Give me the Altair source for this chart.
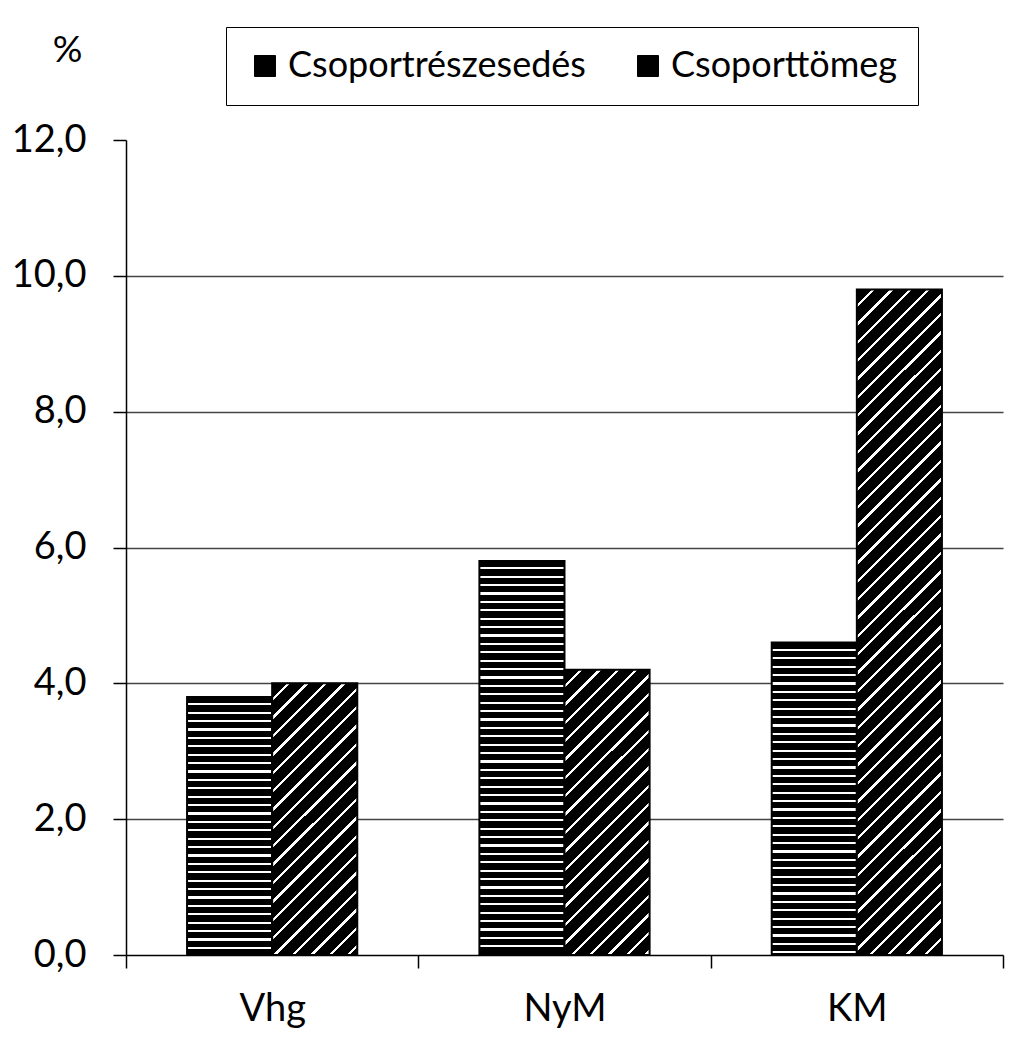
import math
import altair as alt
import pandas as pd

categories = ["Vhg", "NyM", "KM"]
series = ["Csoportrészesedés", "Csoporttömeg"]
share_values = [3.8, 5.8, 4.6]
mass_values = [4.0, 4.2, 9.8]

rows = []
for c, a, b in zip(categories, share_values, mass_values):
    rows.append({"cat": c, "series": series[0], "value": a})
    rows.append({"cat": c, "series": series[1], "value": b})
df = pd.DataFrame(rows)

PLOT_W, PLOT_H = 877, 815
Y_MAX = 12.0
BAR_W = 85.0
FONT = "Lato"


def brick_fill(h, period=8.4, white=2.2):
    n = int(math.ceil(h / period))
    stops = []
    for k in range(n):
        s = (k * period) / h
        m = min(1.0, (k * period + period - white) / h)
        e = min(1.0, ((k + 1) * period) / h)
        if s >= 1.0:
            break
        stops.append({"offset": round(s, 5), "color": "black"})
        stops.append({"offset": round(m, 5), "color": "black"})
        if m < 1.0:
            stops.append({"offset": round(m, 5), "color": "white"})
            stops.append({"offset": round(e, 5), "color": "white"})
    return {"gradient": "linear", "x1": 0, "y1": 0, "x2": 0, "y2": 1, "stops": stops}


def hatch_fill(h, w=BAR_W, period=13.0, white=2.4):
    r = w / h
    s = (r + 1) / (r * r + 1)
    length = s * (w * w / h + h) / math.sqrt(2)
    n = int(math.ceil(length / period))
    stops = []
    for k in range(n):
        a = k * period / length
        m = min(1.0, (k * period + period - white) / length)
        e = min(1.0, (k + 1) * period / length)
        if a >= 1.0:
            break
        stops.append({"offset": round(a, 5), "color": "black"})
        stops.append({"offset": round(m, 5), "color": "black"})
        if m < 1.0:
            stops.append({"offset": round(m, 5), "color": "white"})
            stops.append({"offset": round(e, 5), "color": "white"})
    return {"gradient": "linear", "x1": 0, "y1": 0, "x2": round(s * r, 5), "y2": round(s, 5), "stops": stops}


x_enc = alt.X(
    "cat:N", sort=categories, title=None,
    scale=alt.Scale(paddingInner=0, paddingOuter=0),
    axis=alt.Axis(labelAngle=0, labelFont=FONT, labelFontSize=38, labelColor="black",
                  tickBand="extent", tickSize=13, tickColor="black", tickWidth=1.5,
                  domainColor="black", domainWidth=1.5, labelPadding=22, grid=False),
)
xo_enc = alt.XOffset("series:N", sort=series,
                     scale=alt.Scale(paddingInner=0, paddingOuter=0.7176))
y_enc = alt.Y(
    "value:Q", title="%",
    scale=alt.Scale(domain=[0, Y_MAX], nice=False),
    axis=alt.Axis(values=[0, 2, 4, 6, 8, 10, 12],
                  labelExpr="replace(format(datum.value, '.1f'), '.', ',')",
                  labelFont=FONT, labelFontSize=38, labelColor="black", labelPadding=27,
                  tickSize=13, tickColor="black", tickWidth=1.5,
                  domainColor="black", domainWidth=1.5,
                  grid=True, gridColor="#444444", gridWidth=1.5,
                  gridOpacity={"condition": {"test": "datum.value === 12 || datum.value === 0", "value": 0}, "value": 1},
                  titleAngle=0, titleFont=FONT, titleFontSize=37, titleFontWeight="normal",
                  titleColor="black", titleX=-59, titleY=-90, titleAlign="center",
                  titleBaseline="middle"),
)

base = alt.Chart(df).encode(x=x_enc, xOffset=xo_enc, y=y_enc)

legend_layer = base.mark_bar(opacity=0).encode(
    color=alt.Color(
        "series:N", sort=series,
        scale=alt.Scale(domain=series, range=["black", "black"]),
        legend=alt.Legend(
            title=None, orient="none", direction="horizontal", columns=2,
            legendX=100, legendY=-113,
            strokeColor="black", fillColor="white", padding=21,
            symbolType="square", symbolSize=440, symbolOpacity=1,
            symbolFillColor="black", symbolStrokeColor="black", symbolStrokeWidth=1,
            labelFont=FONT, labelFontSize=36, labelColor="black", labelOffset=5,
            columnPadding=44, labelLimit=400,
        ),
    )
)

layers = [legend_layer]
px_per_unit = PLOT_H / Y_MAX
for r in rows:
    h = r["value"] * px_per_unit
    fill = brick_fill(h) if r["series"] == series[0] else hatch_fill(h)
    cond = f"datum.cat === '{r['cat']}' && datum.series === '{r['series']}'"
    layers.append(
        base.transform_filter(cond).mark_bar(fill=fill, stroke="black", strokeWidth=2)
    )

chart = alt.layer(*layers).properties(
    width=PLOT_W, height=PLOT_H,
    autosize=alt.AutoSizeParams(type="none"),
    padding={"left": 126, "top": 140, "right": 21, "bottom": 105},
    background="white",
).configure_view(stroke=None)

chart.save("out.html", embed_options={"renderer": "svg", "actions": False})
